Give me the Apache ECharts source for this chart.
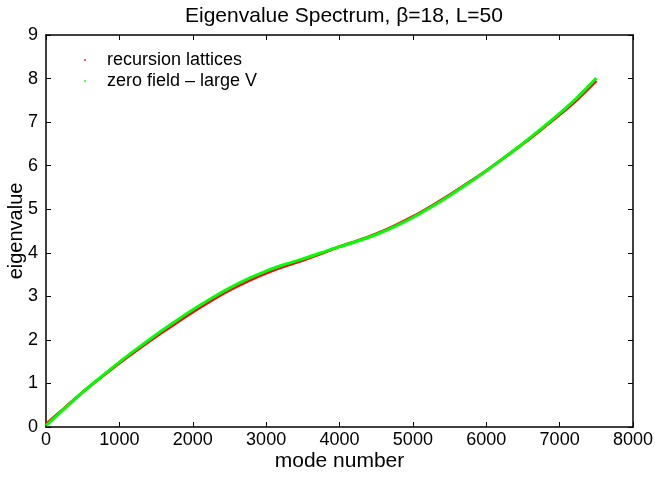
<!DOCTYPE html>
<html>
<head>
<meta charset="utf-8">
<script src="https://cdn.jsdelivr.net/npm/echarts@6/dist/echarts.min.js"></script>
<style>
  html, body { margin: 0; padding: 0; background: #fff; }
  #chart { width: 655px; height: 480px; }
</style>
</head>
<body>
<div id="chart"></div>
<script>
// mode number (x) shared by both series
var modes = [0, 250, 500, 750, 1000, 1250, 1500, 1750, 2000, 2250, 2500, 2750, 3000, 3250, 3500,
  3750, 4000, 4250, 4500, 4750, 5000, 5250, 5500, 5750, 6000, 6250, 6500, 6750, 7000, 7250, 7500];
// eigenvalues
var zeroField = [0.03, 0.42, 0.80, 1.15, 1.49, 1.81, 2.12, 2.41, 2.69, 2.95, 3.19, 3.40, 3.58, 3.73, 3.86,
  4.00, 4.14, 4.27, 4.42, 4.60, 4.81, 5.05, 5.31, 5.59, 5.88, 6.19, 6.51, 6.85, 7.20, 7.58, 8.01];
var recursion = [0.06, 0.43, 0.80, 1.14, 1.47, 1.78, 2.08, 2.36, 2.64, 2.90, 3.14, 3.35, 3.535, 3.69, 3.825,
  3.98, 4.14, 4.28, 4.435, 4.62, 4.83, 5.07, 5.325, 5.60, 5.885, 6.19, 6.50, 6.83, 7.17, 7.535, 7.95];
var xTicks = [0, 8000, 1000];
var yTicks = [0, 9, 1];

function pairs(ys) {
  return modes.map(function (m, i) { return [m, ys[i]]; });
}

var font = "Liberation Sans, Arial, Helvetica, sans-serif";
var myChart = echarts.init(document.getElementById("chart"));

function xAx(pos, show) {
  return {
    type: "value", position: pos, min: xTicks[0], max: xTicks[1], interval: xTicks[2],
    name: show ? "mode number" : "", nameLocation: "middle", nameGap: 24, nameMoveOverlap: false,
    nameTextStyle: { color: "#000", fontSize: 21, fontFamily: font },
    axisLine: { show: true, onZero: false, lineStyle: { color: "#000", width: 1.5 } },
    axisTick: { show: true, inside: true, length: 5, lineStyle: { color: "#000", width: 1 } },
    axisLabel: { show: show, color: "#000", fontSize: 18, fontFamily: font, margin: 4,
      formatter: function (v) { return String(v); } },
    splitLine: { show: false }
  };
}
function yAx(pos, show) {
  return {
    type: "value", position: pos, min: yTicks[0], max: yTicks[1], interval: yTicks[2],
    name: show ? "eigenvalue" : "", nameLocation: "middle", nameGap: 20, nameMoveOverlap: false,
    nameTextStyle: { color: "#000", fontSize: 20, fontFamily: font },
    axisLine: { show: true, onZero: false, lineStyle: { color: "#000", width: 1.5 } },
    axisTick: { show: true, inside: true, length: 5, lineStyle: { color: "#000", width: 1 } },
    axisLabel: { show: show, color: "#000", fontSize: 18, fontFamily: font, margin: 8,
      formatter: function (v) { return String(v); } },
    splitLine: { show: false }
  };
}

var option = {
  backgroundColor: "#fff",
  animation: false,
  title: {
    text: "Eigenvalue Spectrum, β=18, L=50",
    left: 180, top: 1,
    textStyle: { color: "#000", fontSize: 21, fontWeight: "normal", fontFamily: font }
  },
  legend: {
    orient: "vertical", left: 79, top: 46, itemGap: 3,
    itemWidth: 2, itemHeight: 2, icon: "rect",
    textStyle: { color: "#000", fontSize: 18, fontFamily: font, padding: [0, 0, 0, 16] },
    data: ["recursion lattices", "zero field – large V"]
  },
  grid: { left: 46, right: 22, top: 35, bottom: 53, containLabel: false, outerBoundsMode: "none" },
  xAxis: [xAx("bottom", true), xAx("top", false)],
  yAxis: [yAx("left", true), yAx("right", false)],
  series: [
    {
      name: "recursion lattices", type: "line", data: pairs(recursion),
      smooth: 0.3, showSymbol: false, symbol: "rect",
      itemStyle: { color: "#ff6060" }, lineStyle: { color: "#ff0000", width: 3 }
    },
    {
      name: "zero field – large V", type: "line", data: pairs(zeroField),
      smooth: 0.3, showSymbol: false, symbol: "rect",
      itemStyle: { color: "#60ff60" }, lineStyle: { color: "#00ff00", width: 3 }
    }
  ]
};
option && myChart.setOption(option);
</script>
</body>
</html>
